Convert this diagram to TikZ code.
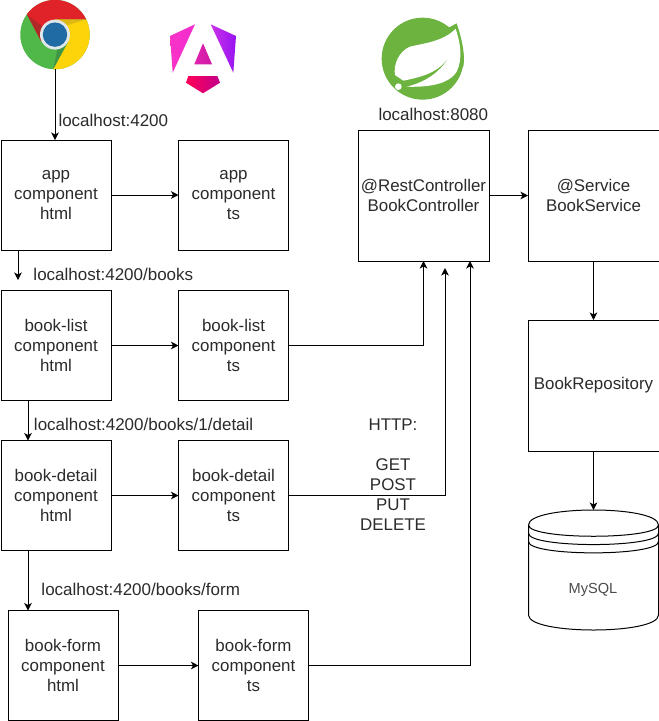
\documentclass[tikz,border=0pt]{standalone}
\usepackage{fontspec}
\setmainfont{Liberation Sans}
\usetikzlibrary{arrows.meta}
\definecolor{txt}{HTML}{2B2B2B}
\definecolor{sgreen}{HTML}{6DB33F}
\tikzset{
  box/.style={draw=black,line width=1pt,inner sep=0pt,outer sep=0pt,align=center,text=txt,
    font=\fontsize{16.9}{20}\selectfont},
  small/.style={box,minimum width=110pt,minimum height=110pt},
  big/.style={box,minimum width=131pt,minimum height=131pt},
  conn/.style={line width=1pt,-{Stealth[length=7.5pt,width=7.5pt,inset=2pt]}},
  lbl/.style={inner sep=0pt,outer sep=0pt,anchor=base west,text=txt,font=\fontsize{17}{20}\selectfont},
  dbline/.style={draw=black,line width=1pt},
}
\begin{document}
\begin{tikzpicture}[x=1pt,y=-1pt]
\useasboundingbox (0,0) rectangle (659,721);
\fill[white] (0,0) rectangle (659,721);

% Chrome logo
\node[circle,minimum size=69.4pt,inner sep=0pt,outer sep=0pt] (chrome) at (55,34.6) {};
\begin{scope}
\clip (55,34.6) circle[radius=34.7];
\fill[fill={rgb,255:red,80;green,184;blue,72}] (15,-5) rectangle (95,75);
\fill[fill={rgb,255:red,224;green,35;blue,40}] (20,5) -- (27.3,15) -- (41,41) -- (55,34.6) -- (55,19.5) -- (90,19.5) -- (90,-5) -- (20,-5) -- cycle;
\fill[fill={rgb,255:red,253;green,212;blue,9}] (55,19.5) -- (95,19.5) -- (95,75) -- (53.3,72) -- (53.3,69) -- (68,42) -- (55,34.6) -- cycle;
\fill[fill={rgb,255:red,222;green,185;blue,20}] (55,19.5) -- (86,19.5) -- (68,25) -- cycle;
\fill[fill={rgb,255:red,176;green,40;blue,40}] (27.3,15) -- (42,26) -- (41,41) -- cycle;
\fill[fill={rgb,255:red,62;green,150;blue,70}] (53.3,69) -- (68,42) -- (58,46) -- cycle;
\end{scope}
\fill[fill={rgb,255:red,225;green,230;blue,232}] (55,34.6) circle[radius=15];
\fill[fill={rgb,255:red,33;green,107;blue,165}] (55,34.6) circle[radius=12.2];

% Angular logo
\shade[left color={rgb,255:red,250;green,50;blue,200},right color={rgb,255:red,240;green,45;blue,205}]
  (170,36) -- (195,24.3) -- (172.7,72.7) -- cycle;
\shade[left color={rgb,255:red,205;green,50;blue,235},right color={rgb,255:red,150;green,20;blue,240}]
  (210.7,24.3) -- (236,36) -- (233.3,72.7) -- cycle;
\shade[left color={rgb,255:red,225;green,35;blue,175},right color={rgb,255:red,205;green,25;blue,165}]
  (203,43.3) -- (212,64.3) -- (194.3,64.3) -- cycle;
\shade[left color={rgb,255:red,255;green,0;blue,85},right color={rgb,255:red,195;green,0;blue,140}]
  (188.3,76) -- (217.3,76) -- (220,82.7) -- (203,93.3) -- (186,82.7) -- cycle;

% Spring logo
\begin{scope}[shift={(360,0)},x=0.3333pt,y=-0.3333pt]
\fill[sgreen] (188,176) circle[radius=123];
\fill[sgreen] (262,85) -- (290,70) .. controls (305,115) and (316,160) .. (310,200) -- (270,130) -- cycle;
\fill[white] (287,86) .. controls (250,125) and (190,130) .. (150,140)
  .. controls (115,155) and (100,195) .. (105,225) -- (130,242)
  .. controls (190,230) and (250,215) .. (278,150)
  .. controls (255,205) and (205,245) .. (140,260)
  .. controls (200,262) and (265,255) .. (290,215)
  .. controls (310,175) and (300,125) .. (287,86) -- cycle;
\fill[white] (115,260) circle[radius=10];
\end{scope}

% Boxes
\node[small] (apphtml) at (56,195) {app\\component\\html};
\node[small] (appts) at (233.5,195) {app\\component\\ts};
\node[small] (listhtml) at (56,345.5) {book-list\\component\\html};
\node[small] (listts) at (233.5,345.5) {book-list\\component\\ts};
\node[small] (detailhtml) at (56,495.5) {book-detail\\component\\html};
\node[small] (detailts) at (233.5,495.5) {book-detail\\component\\ts};
\node[small] (formhtml) at (63,665.5) {book-form\\component\\html};
\node[small] (formts) at (253.5,665.5) {book-form\\component\\ts};
\node[big] (rest) at (423.5,195.5) {@RestController\\BookController};
\node[big] (service) at (593.5,195.5) {@Service\\BookService};
\node[big] (repo) at (593.5,385.5) {BookRepository};

% Database
\draw[dbline] (528.5,525) .. controls (528.5,505) and (658.5,505) .. (658.5,525)
  -- (658.5,615) .. controls (658.5,635) and (528.5,635) .. (528.5,615) -- cycle;
\draw[dbline] (528.5,525) .. controls (528.5,540) and (658.5,540) .. (658.5,525);
\draw[dbline] (528.5,533.3) .. controls (528.5,548.3) and (658.5,548.3) .. (658.5,533.3);
\draw[dbline] (528.5,541.6) .. controls (528.5,556.6) and (658.5,556.6) .. (658.5,541.6);
\node[inner sep=0pt,outer sep=0pt,text=txt!85!white,font=\fontsize{14.6}{18}\selectfont] (mysql) at (593,590) {MySQL};
\coordinate (dbtop) at (593.5,510);

% Free-end coordinates
\coordinate (endlist) at (18,280);
\coordinate (xdown) at (28,0);
\coordinate (xdetail) at (445,268);
\coordinate (xform) at (470,0);

% Connectors
\draw[conn] (chrome.south) -- (chrome.south |- apphtml.north);
\draw[conn] (apphtml) -- (appts);
\draw[conn] (apphtml.south -| endlist) -- (endlist);
\draw[conn] (listhtml) -- (listts);
\draw[conn] (listhtml.south -| xdown) -- (detailhtml.north -| xdown);
\draw[conn] (detailhtml) -- (detailts);
\draw[conn] (detailhtml.south -| xdown) -- (formhtml.north -| xdown);
\draw[conn] (formhtml) -- (formts);
\draw[conn] (listts.east) -| (rest.south);
\draw[conn] (detailts.east) -| (xdetail);
\draw[conn] (formts.east) -| (rest.south -| xform);
\draw[conn] (rest) -- (service);
\draw[conn] (service) -- (repo);
\draw[conn] (repo) -- (dbtop);

% Labels
\node[lbl] (l1) at (58.5,126) {localhost:4200};
\node[lbl] (l2) at (33.5,280) {localhost:4200/books};
\node[lbl] (l3) at (34,430) {localhost:4200/books/1/detail};
\node[lbl] (l4) at (41.5,595) {localhost:4200/books/form};
\node[lbl] (l5) at (378.5,120) {localhost:8080};
\node[inner sep=0pt,outer sep=0pt,align=center,text=txt,font=\fontsize{16.9}{20}\selectfont] (http) at (393,475) {HTTP:\\[20pt]GET\\POST\\PUT\\DELETE};
\end{tikzpicture}
\end{document}
